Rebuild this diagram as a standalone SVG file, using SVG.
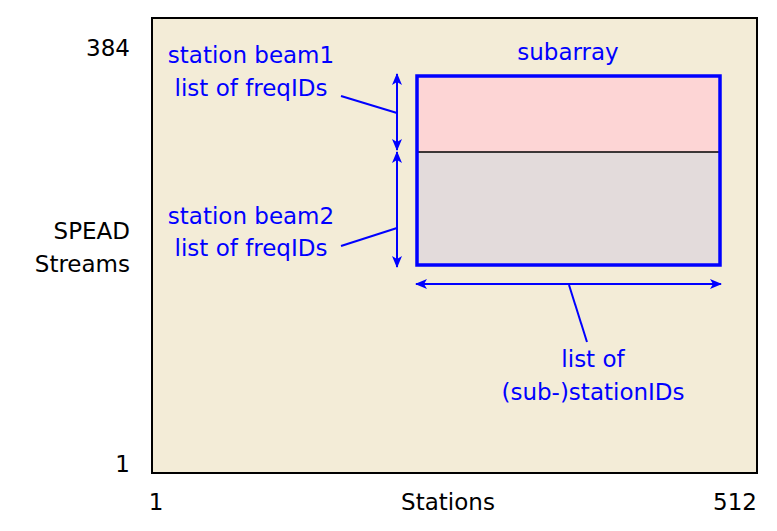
<svg xmlns="http://www.w3.org/2000/svg" width="777" height="531" viewBox="0 0 777 531">
<style>
.b{font-family:"DejaVu Sans",sans-serif;font-size:23px;fill:#0000ff}
.k{font-family:"DejaVu Sans",sans-serif;font-size:23px;fill:#000}
.l{stroke:#0000ff;stroke-width:2;fill:none}
</style>
<defs>
<marker id="a" viewBox="0 0 12 10" refX="11" refY="5" markerWidth="12" markerHeight="10" markerUnits="userSpaceOnUse" orient="auto-start-reverse">
<path d="M0,0 L12,5 L0,10 L3,5 Z" fill="#0000ff"/>
</marker>
</defs>
<rect width="777" height="531" fill="#fff"/>
<g id="frame"><rect x="152" y="18" width="605" height="455" fill="#f3ecd7" stroke="#000" stroke-width="2"/></g>
<g id="subarray">
<rect x="417" y="76" width="303" height="76" fill="#fdd5d5"/>
<rect x="417" y="152" width="303" height="113" fill="#e3dbdb"/>
<line x1="417" y1="152" x2="720" y2="152" stroke="#000" stroke-width="1.5"/>
<rect x="417" y="76" width="303" height="189" fill="none" stroke="#0000ff" stroke-width="3.5"/>
<text class="b" x="568" y="60" text-anchor="middle">subarray</text>
</g>
<g id="connectors">
<line class="l" x1="397" y1="74" x2="397" y2="150" marker-start="url(#a)" marker-end="url(#a)"/>
<line class="l" x1="397" y1="152" x2="397" y2="267" marker-start="url(#a)" marker-end="url(#a)"/>
<line class="l" x1="416" y1="284" x2="721" y2="284" marker-start="url(#a)" marker-end="url(#a)"/>
<line class="l" x1="341" y1="96" x2="397" y2="113"/>
<line class="l" x1="341" y1="246" x2="397" y2="228"/>
<line class="l" x1="569" y1="285" x2="587" y2="342"/>
</g>
<g id="labels">
<text class="b" x="251" y="63" text-anchor="middle">station beam1</text>
<text class="b" x="251" y="96" text-anchor="middle">list of freqIDs</text>
<text class="b" x="251" y="224" text-anchor="middle">station beam2</text>
<text class="b" x="251" y="256" text-anchor="middle">list of freqIDs</text>
<text class="b" x="593" y="367" text-anchor="middle">list of</text>
<text class="b" x="593" y="400" text-anchor="middle">(sub-)stationIDs</text>
<text class="k" x="130" y="56" text-anchor="end">384</text>
<text class="k" x="130" y="239" text-anchor="end">SPEAD</text>
<text class="k" x="130" y="272" text-anchor="end">Streams</text>
<text class="k" x="130" y="472" text-anchor="end">1</text>
<text class="k" x="156" y="510" text-anchor="middle">1</text>
<text class="k" x="448" y="510" text-anchor="middle">Stations</text>
<text class="k" x="735" y="510" text-anchor="middle">512</text>
</g>
</svg>
